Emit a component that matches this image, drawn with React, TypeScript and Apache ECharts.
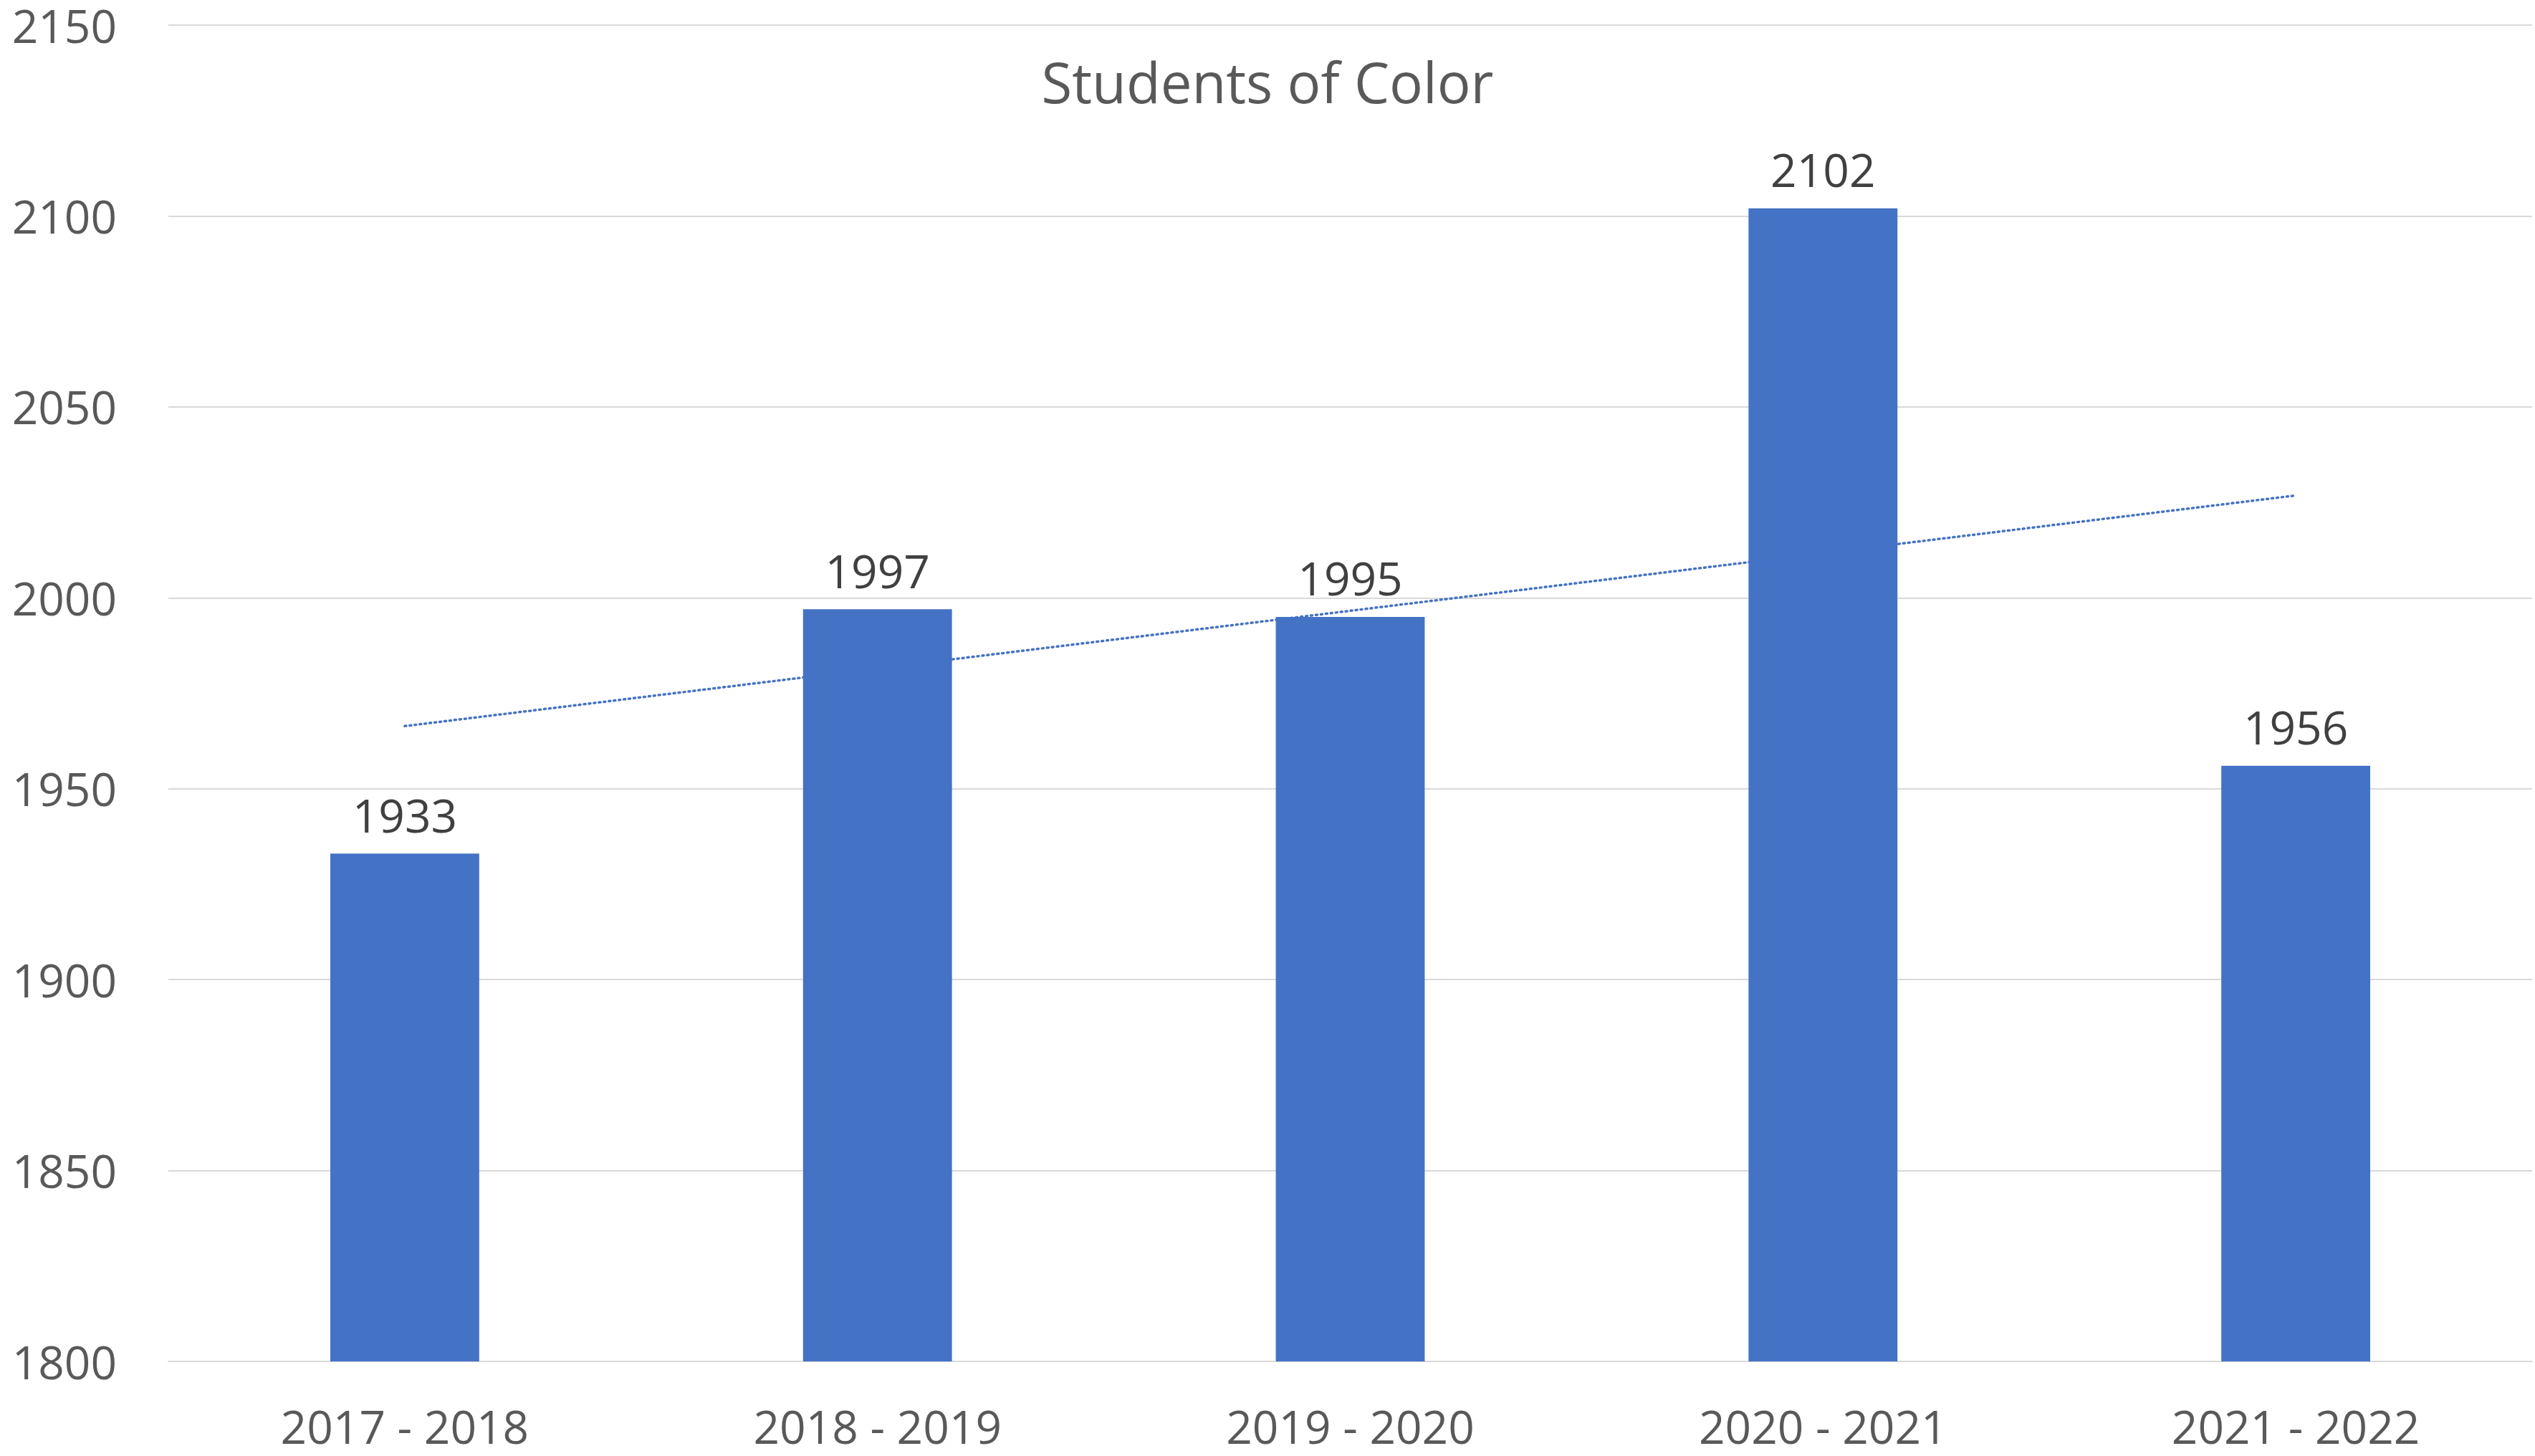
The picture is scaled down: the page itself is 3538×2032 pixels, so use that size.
import React, { useEffect, useRef } from "react";
import * as echarts from "echarts";

const categories = ["2017 - 2018", "2018 - 2019", "2019 - 2020", "2020 - 2021", "2021 - 2022"];
const studentsOfColor = [1933, 1997, 1995, 2102, 1956];
const titleText = "Students of Color";

// Linear trendline (least squares) over the category index, as the spreadsheet draws it
function linearTrend(values: number[]): number[] {
  const n = values.length;
  const xs = values.map((_, i) => i + 1);
  const mx = xs.reduce((a, b) => a + b, 0) / n;
  const my = values.reduce((a, b) => a + b, 0) / n;
  let num = 0;
  let den = 0;
  xs.forEach((x, i) => {
    num += (x - mx) * (values[i] - my);
    den += (x - mx) * (x - mx);
  });
  const slope = num / den;
  const intercept = my - slope * mx;
  return xs.map((x) => +(intercept + slope * x).toFixed(2));
}

const FONT = "'Open Sans', 'Liberation Sans', sans-serif";

export default function App() {
  const ref = useRef<HTMLDivElement>(null);

  useEffect(() => {
    if (!ref.current) return;
    const chart = echarts.init(ref.current, undefined, { renderer: "svg" });
    const trend = linearTrend(studentsOfColor);
    chart.setOption({
      animation: false,
      backgroundColor: "#ffffff",
      title: {
        text: titleText,
        left: "center",
        top: 70,
        textStyle: {
          fontFamily: FONT,
          fontSize: 78,
          fontWeight: "normal",
          color: "#595959",
        },
      },
      grid: {
        left: 235,
        right: 4,
        top: 35,
        bottom: 132,
        containLabel: false,
      },
      xAxis: {
        type: "category",
        data: categories,
        axisLine: { show: true, lineStyle: { color: "#D9D9D9", width: 2 } },
        axisTick: { show: false },
        axisLabel: {
          fontFamily: FONT,
          fontSize: 64,
          color: "#595959",
          margin: 58,
        },
      },
      yAxis: {
        type: "value",
        min: 1800,
        max: 2150,
        interval: 50,
        axisLine: { show: false },
        axisTick: { show: false },
        splitLine: { show: true, lineStyle: { color: "#D9D9D9", width: 2 } },
        axisLabel: {
          fontFamily: FONT,
          fontSize: 64,
          lineHeight: 56,
          color: "#595959",
          margin: 72,
          formatter: (v: number) => String(v),
        },
      },
      series: [
        {
          name: titleText,
          type: "bar",
          data: studentsOfColor,
          barWidth: "31.5%",
          itemStyle: { color: "#4472C4" },
          label: {
            show: true,
            position: "top",
            distance: 22,
            fontFamily: FONT,
            fontSize: 64,
            color: "#404040",
          },
          z: 2,
        },
        {
          name: "Linear trend",
          type: "line",
          data: trend,
          symbol: "none",
          lineStyle: {
            color: "#4472C4",
            width: 3.5,
            type: [2, 5],
            cap: "round",
          },
          z: 3,
        },
      ],
    });
    return () => chart.dispose();
  }, []);

  return (
    <div
      ref={ref}
      style={{ position: "fixed", left: 0, top: 0, width: 3538, height: 2032 }}
    />
  );
}
